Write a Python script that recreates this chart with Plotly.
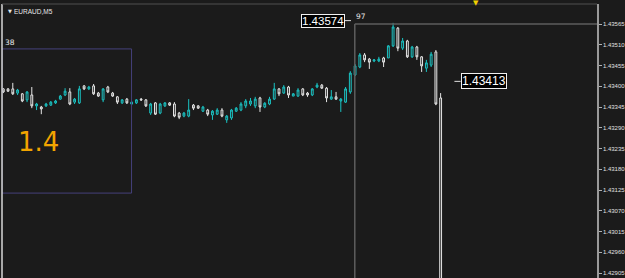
import plotly.graph_objects as go

# ---------------- data ----------------
bar_index = list(range(93))
opens = [1.43393, 1.43393, 1.43393, 1.43382, 1.43380, 1.43364, 1.43377, 1.43348, 1.43345, 1.43348,
         1.43350, 1.43356, 1.43366, 1.43377, 1.43385, 1.43358, 1.43356, 1.43401, 1.43393, 1.43401,
         1.43382, 1.43364, 1.43398, 1.43382, 1.43372, 1.43356, 1.43366, 1.43353, 1.43356, 1.43366,
         1.43364, 1.43329, 1.43356, 1.43329, 1.43348, 1.43356, 1.43353, 1.43329, 1.43321, 1.43321,
         1.43350, 1.43348, 1.43334, 1.43337, 1.43324, 1.43326, 1.43337, 1.43311, 1.43316, 1.43334,
         1.43337, 1.43348, 1.43353, 1.43348, 1.43369, 1.43345, 1.43353, 1.43366, 1.43393, 1.43382,
         1.43398, 1.43374, 1.43374, 1.43393, 1.43382, 1.43377, 1.43398, 1.43403, 1.43395, 1.43366,
         1.43372, 1.43361, 1.43358, 1.43385, 1.43430, 1.43451, 1.43483, 1.43472, 1.43467, 1.43467,
         1.43475, 1.43475, 1.43507, 1.43554, 1.43501, 1.43520, 1.43478, 1.43504, 1.43478, 1.43448,
         1.43456, 1.43491, 1.43369]
highs = [1.43395, 1.43395, 1.43409, 1.43393, 1.43382, 1.43387, 1.43398, 1.43356, 1.43348, 1.43356,
         1.43361, 1.43364, 1.43377, 1.43395, 1.43395, 1.43369, 1.43401, 1.43403, 1.43401, 1.43406,
         1.43385, 1.43395, 1.43401, 1.43385, 1.43374, 1.43366, 1.43369, 1.43361, 1.43366, 1.43369,
         1.43366, 1.43356, 1.43358, 1.43356, 1.43358, 1.43358, 1.43358, 1.43332, 1.43332, 1.43366,
         1.43353, 1.43350, 1.43348, 1.43340, 1.43337, 1.43342, 1.43342, 1.43324, 1.43340, 1.43345,
         1.43358, 1.43366, 1.43369, 1.43372, 1.43372, 1.43358, 1.43372, 1.43409, 1.43395, 1.43403,
         1.43401, 1.43382, 1.43395, 1.43395, 1.43385, 1.43395, 1.43409, 1.43406, 1.43398, 1.43390,
         1.43385, 1.43369, 1.43398, 1.43440, 1.43459, 1.43488, 1.43488, 1.43475, 1.43472, 1.43478,
         1.43478, 1.43509, 1.43568, 1.43557, 1.43528, 1.43523, 1.43507, 1.43507, 1.43480, 1.43470,
         1.43491, 1.43496, 1.43382]
lows = [1.43382, 1.43385, 1.43377, 1.43377, 1.43358, 1.43358, 1.43342, 1.43337, 1.43326, 1.43345,
        1.43348, 1.43353, 1.43364, 1.43374, 1.43350, 1.43353, 1.43353, 1.43390, 1.43390, 1.43377,
        1.43372, 1.43358, 1.43382, 1.43372, 1.43353, 1.43353, 1.43353, 1.43350, 1.43353, 1.43361,
        1.43345, 1.43324, 1.43324, 1.43326, 1.43345, 1.43348, 1.43318, 1.43313, 1.43318, 1.43318,
        1.43337, 1.43340, 1.43332, 1.43321, 1.43311, 1.43324, 1.43318, 1.43303, 1.43311, 1.43332,
        1.43334, 1.43342, 1.43348, 1.43342, 1.43332, 1.43342, 1.43350, 1.43364, 1.43374, 1.43380,
        1.43369, 1.43374, 1.43372, 1.43374, 1.43372, 1.43374, 1.43395, 1.43393, 1.43358, 1.43364,
        1.43364, 1.43332, 1.43356, 1.43380, 1.43427, 1.43448, 1.43464, 1.43446, 1.43464, 1.43464,
        1.43451, 1.43475, 1.43504, 1.43493, 1.43496, 1.43475, 1.43475, 1.43470, 1.43438, 1.43438,
        1.43451, 1.43350, 1.42860]
closes = [1.43385, 1.43387, 1.43380, 1.43390, 1.43361, 1.43385, 1.43348, 1.43353, 1.43340, 1.43353,
          1.43358, 1.43361, 1.43374, 1.43387, 1.43353, 1.43366, 1.43393, 1.43393, 1.43398, 1.43380,
          1.43374, 1.43393, 1.43385, 1.43374, 1.43358, 1.43364, 1.43356, 1.43358, 1.43364, 1.43364,
          1.43348, 1.43353, 1.43326, 1.43353, 1.43356, 1.43350, 1.43321, 1.43318, 1.43329, 1.43337,
          1.43342, 1.43342, 1.43345, 1.43326, 1.43334, 1.43337, 1.43321, 1.43321, 1.43337, 1.43342,
          1.43353, 1.43361, 1.43361, 1.43366, 1.43345, 1.43355, 1.43366, 1.43393, 1.43380, 1.43398,
          1.43377, 1.43380, 1.43390, 1.43377, 1.43377, 1.43393, 1.43403, 1.43395, 1.43369, 1.43372,
          1.43366, 1.43366, 1.43393, 1.43435, 1.43454, 1.43483, 1.43470, 1.43464, 1.43470, 1.43472,
          1.43464, 1.43507, 1.43557, 1.43501, 1.43520, 1.43478, 1.43504, 1.43478, 1.43454, 1.43462,
          1.43485, 1.43353, 1.42873]

y_ticks = [1.42905, 1.42960, 1.43015, 1.43070, 1.43125, 1.43180, 1.43235,
           1.43290, 1.43345, 1.43400, 1.43455, 1.43510, 1.43565]
y_range = [1.42892, 1.43618]
x_range = [-0.27, 124.89]

symbol_label = "EURAUD,M5"
rect1 = dict(x0=-0.27, x1=26.98, y0=1.43117, y1=1.43499, label="38")
rect2 = dict(x0=73.94, y1=1.43565, label="97")
big_text = "1.4"
price_label_left = 1.43574
price_label_left_x = 71.64
price_label_right = 1.43413
price_label_right_x = 96.2
shift_marker_x = 99.5

BG = "#1b1b1b"
BULL = "#19c3c3"
BEAR = "#e6e6e6"
BODY_FILL = "#2a2a2a"

fig = go.Figure()
fig.add_trace(go.Candlestick(
    x=bar_index, open=opens, high=highs, low=lows, close=closes,
    increasing=dict(line=dict(color=BULL, width=1), fillcolor=BODY_FILL),
    decreasing=dict(line=dict(color=BEAR, width=1), fillcolor=BODY_FILL),
    whiskerwidth=0, showlegend=False, hoverinfo="skip",
))

shapes = [
    dict(type="rect", xref="x", yref="y", x0=rect1["x0"], x1=rect1["x1"],
         y0=rect1["y0"], y1=rect1["y1"], line=dict(color="#45417a", width=1)),
    dict(type="line", xref="x", yref="y", x0=rect2["x0"], x1=x_range[1],
         y0=rect2["y1"], y1=rect2["y1"], line=dict(color="#5e5e5e", width=1.5)),
    dict(type="line", xref="x", yref="y", x0=rect2["x0"], x1=rect2["x0"],
         y0=y_range[0], y1=rect2["y1"], line=dict(color="#5e5e5e", width=1.5)),
    dict(type="line", xref="paper", yref="paper", x0=0, x1=0, y0=0, y1=1,
         line=dict(color="#d8d8d8", width=1.5)),
    dict(type="line", xref="paper", yref="paper", x0=0, x1=1, y0=1, y1=1,
         line=dict(color="#505050", width=1)),
    dict(type="line", xref="x", yref="y", x0=price_label_left_x,
         x1=price_label_left_x + 1.5, y0=price_label_left, y1=price_label_left,
         line=dict(color="#e0e0e0", width=1)),
    dict(type="line", xref="x", yref="y", x0=price_label_right_x - 1.3,
         x1=price_label_right_x, y0=price_label_right, y1=price_label_right,
         line=dict(color="#e0e0e0", width=1)),
]

annotations = [
    dict(text=symbol_label, xref="paper", yref="paper", x=0.017, y=1, xanchor="left",
         yanchor="top", yshift=-2, showarrow=False,
         font=dict(family="Liberation Sans", size=6.5, color="#e8e8e8")),
    dict(text="▼", xref="paper", yref="paper", x=0.006, y=1, xanchor="left",
         yanchor="top", yshift=-2, showarrow=False,
         font=dict(family="DejaVu Sans", size=5, color="#e8e8e8")),
    dict(text=rect1["label"], xref="x", yref="y", x=rect1["x0"], y=rect1["y1"],
         xanchor="left", yanchor="bottom", xshift=1, yshift=0, showarrow=False,
         font=dict(family="DejaVu Sans", size=7.5, color="#e8e8e8")),
    dict(text=rect2["label"], xref="x", yref="y", x=rect2["x0"], y=rect2["y1"],
         xanchor="left", yanchor="bottom", xshift=-1, yshift=1, showarrow=False,
         font=dict(family="DejaVu Sans", size=7.5, color="#e8e8e8")),
    dict(text=big_text, xref="paper", yref="paper", x=0.024, y=0.495,
         xanchor="left", yanchor="middle", showarrow=False,
         font=dict(family="DejaVu Sans", size=26, color="#f2a400")),
    dict(text=f"{price_label_left:.5f}", xref="x", yref="y", x=price_label_left_x,
         y=price_label_left, xanchor="right", yanchor="middle", showarrow=False,
         xshift=1,
         bgcolor="#000000", bordercolor="#f0f0f0", borderwidth=1, borderpad=0,
         font=dict(family="Liberation Sans", size=11.5, color="#ffffff")),
    dict(text=f"{price_label_right:.5f}", xref="x", yref="y", x=price_label_right_x,
         y=price_label_right, xanchor="left", yanchor="middle", showarrow=False,
         bgcolor="#000000", bordercolor="#f0f0f0", borderwidth=1, borderpad=0,
         font=dict(family="Liberation Sans", size=12, color="#ffffff")),
    dict(text="▼", xref="x", yref="paper", x=shift_marker_x, y=1, xanchor="center",
         yanchor="middle", yshift=1, showarrow=False,
         font=dict(family="DejaVu Sans", size=7, color="#f0d000")),
]

fig.update_layout(
    width=625, height=278,
    margin=dict(l=2, r=26, t=4, b=0),
    paper_bgcolor=BG, plot_bgcolor=BG,
    boxgap=0.45,
    shapes=shapes, annotations=annotations,
    xaxis=dict(range=x_range, visible=False, rangeslider=dict(visible=False),
               showgrid=False, zeroline=False, fixedrange=True),
    yaxis=dict(range=y_range, side="right", showgrid=False, zeroline=False,
               tickvals=y_ticks, ticktext=[f"{v:.5f}" for v in y_ticks],
               ticks="outside", ticklen=3, tickcolor="#b0b0b0", tickwidth=1,
               showline=True, linecolor="#9a9a9a", linewidth=1.5,
               tickfont=dict(family="Liberation Sans", size=6, color="#e0e0e0"),
               fixedrange=True),
)

fig.write_html("out.html")
